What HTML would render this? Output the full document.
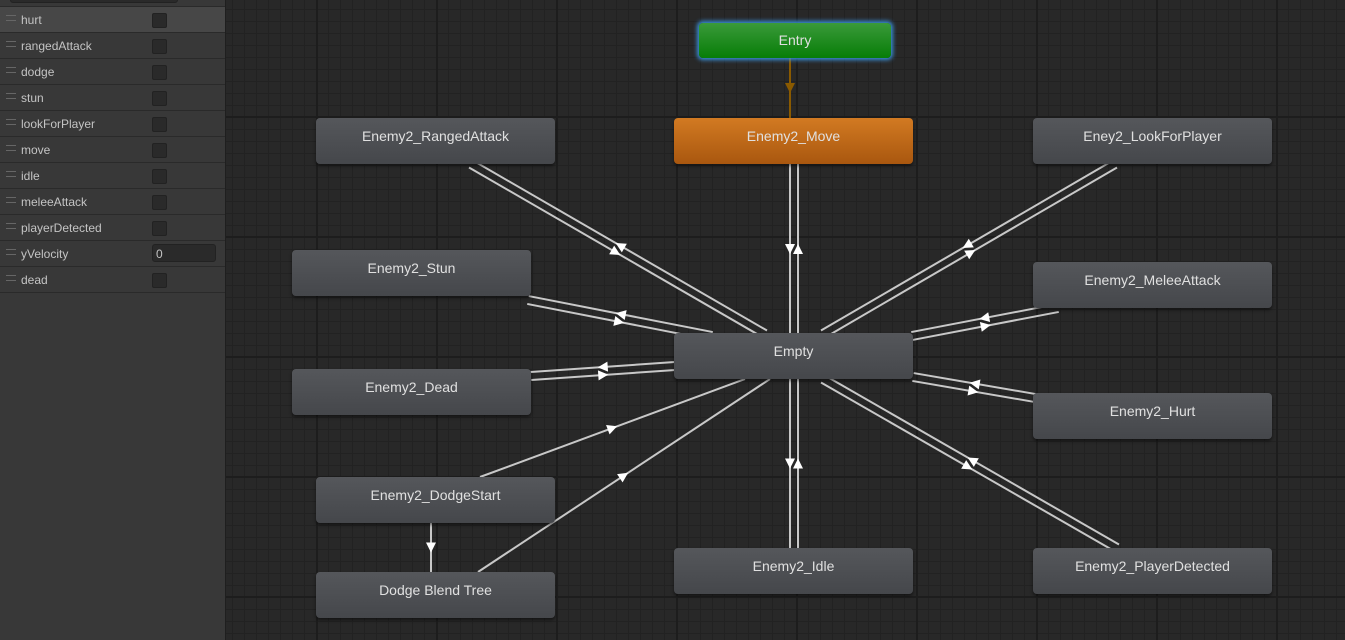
<!DOCTYPE html>
<html><head><meta charset="utf-8">
<style>
html,body{margin:0;padding:0;width:1345px;height:640px;overflow:hidden;background:#282828;font-family:"Liberation Sans",sans-serif;}
#canvas{position:absolute;left:226px;top:0;width:1119px;height:640px;
background-color:#282828;
background-image:
linear-gradient(to right,#1d1d1d 0,#1d1d1d 2px,transparent 2px),
linear-gradient(to bottom,#1d1d1d 0,#1d1d1d 2px,transparent 2px),
linear-gradient(to right,#222 0,#222 1px,transparent 1px),
linear-gradient(to bottom,#222 0,#222 1px,transparent 1px);
background-size:120px 120px,120px 120px,12px 12px,12px 12px;
background-position:90px 0,0 116px,6px 0,0 9px;}
#panel{position:absolute;left:0;top:0;width:225px;height:640px;background:#383838;border-right:1px solid #1f1f1f;}
.row{position:absolute;left:0;width:225px;height:25px;border-bottom:1px solid #2a2a2a;color:#c4c4c4;font-size:12px;}
.row span{position:absolute;left:21px;top:6px;}
.row i{position:absolute;left:6px;top:8px;width:10px;height:4px;border-top:1px solid #666;border-bottom:1px solid #666;}
.row b{position:absolute;left:152px;top:6px;width:13px;height:13px;background:#2a2a2a;border:1px solid #222;border-radius:2px;}
.row em{position:absolute;left:152px;top:3px;width:64px;height:18px;background:#2a2a2a;border:1px solid #222;border-radius:3px;font-style:normal;font-size:12px;line-height:18px;padding-left:3px;box-sizing:border-box;}
.node{position:absolute;width:239px;height:46px;background:linear-gradient(#55575b,#45474b);border-radius:4px;color:#e0e0e0;font-size:14px;text-align:center;line-height:36px;box-shadow:0 2px 3px rgba(0,0,0,.5);}
svg{position:absolute;left:0;top:0;}
</style></head><body>
<div id="canvas"></div>
<svg id="s" width="1345" height="640"></svg>
<div id="panel">
<div style="position:absolute;left:10px;top:-6px;width:166px;height:7px;border:1px solid #222;border-radius:3px;background:#2a2a2a"></div>
<div style="position:absolute;left:0;top:6px;width:225px;height:1px;background:#2a2a2a"></div>
<div class="row" style="top:7px;background:#474747"><i></i><span>hurt</span><b></b></div>
<div class="row" style="top:33px"><i></i><span>rangedAttack</span><b></b></div>
<div class="row" style="top:59px"><i></i><span>dodge</span><b></b></div>
<div class="row" style="top:85px"><i></i><span>stun</span><b></b></div>
<div class="row" style="top:111px"><i></i><span>lookForPlayer</span><b></b></div>
<div class="row" style="top:137px"><i></i><span>move</span><b></b></div>
<div class="row" style="top:163px"><i></i><span>idle</span><b></b></div>
<div class="row" style="top:189px"><i></i><span>meleeAttack</span><b></b></div>
<div class="row" style="top:215px"><i></i><span>playerDetected</span><b></b></div>
<div class="row" style="top:241px"><i></i><span>yVelocity</span><em>0</em></div>
<div class="row" style="top:267px"><i></i><span>dead</span><b></b></div>
</div>
<div class="node" style="left:699px;top:23px;width:192px;height:35px;background:linear-gradient(#3a9a3a,#077d07);line-height:35px;box-shadow:0 0 4px 2px #3a8fd8;">Entry</div>
<div class="node" style="left:674px;top:118px;background:linear-gradient(#d27a22,#a9570f)">Enemy2_Move</div>
<div class="node" style="left:316px;top:118px">Enemy2_RangedAttack</div>
<div class="node" style="left:1033px;top:118px">Eney2_LookForPlayer</div>
<div class="node" style="left:292px;top:250px">Enemy2_Stun</div>
<div class="node" style="left:1033px;top:262px">Enemy2_MeleeAttack</div>
<div class="node" style="left:674px;top:333px">Empty</div>
<div class="node" style="left:292px;top:369px">Enemy2_Dead</div>
<div class="node" style="left:1033px;top:393px">Enemy2_Hurt</div>
<div class="node" style="left:316px;top:477px">Enemy2_DodgeStart</div>
<div class="node" style="left:316px;top:572px">Dodge Blend Tree</div>
<div class="node" style="left:674px;top:548px">Enemy2_Idle</div>
<div class="node" style="left:1033px;top:548px">Enemy2_PlayerDetected</div>
<script>
var s=document.getElementById('s'),h='';
function arrow(x,y,dx,dy,c){var L=Math.hypot(dx,dy),ux=dx/L,uy=dy/L,px=-uy,py=ux,sz=5;
 var tx=x+ux*sz,ty=y+uy*sz,bx=x-ux*sz,by=y-uy*sz;
 h+='<polygon fill="'+c+'" points="'+tx+','+ty+' '+(bx+px*sz)+','+(by+py*sz)+' '+(bx-px*sz)+','+(by-py*sz)+'"/>';}
function line(ax,ay,bx,by,c,arr){h+='<line x1="'+ax+'" y1="'+ay+'" x2="'+bx+'" y2="'+by+'" stroke="'+c+'" stroke-width="2"/>';
 if(arr){var mx=(ax+bx)/2,my=(ay+by)/2;arrow(mx,my,bx-ax,by-ay,c==='#c8c8c8'?'#fff':c);}}
function pair(ax,ay,bx,by){var dx=bx-ax,dy=by-ay,L=Math.hypot(dx,dy),px=-dy/L*4,py=dx/L*4;
 line(ax+px,ay+py,bx+px,by+py,'#c8c8c8',1);line(bx-px,by-py,ax-px,ay-py,'#c8c8c8',1);}
var E=[[794,356]];
pair(471,164,765,334);pair(794,164,794,334);pair(1115,164,823,334);
pair(528,300,712,336);pair(1058,308,912,336);pair(531,376,675,366);
pair(913,377,1035,398);pair(794,379,794,548);pair(823,379,1117,548);
line(480,477,745,379,'#c8c8c8',1);line(478,572,770,379,'#c8c8c8',1);
line(431,523,431,572,'#c8c8c8',1);
line(790,58,790,118,'#8a5a00',1);
s.innerHTML=h;
</script>
</body></html>
